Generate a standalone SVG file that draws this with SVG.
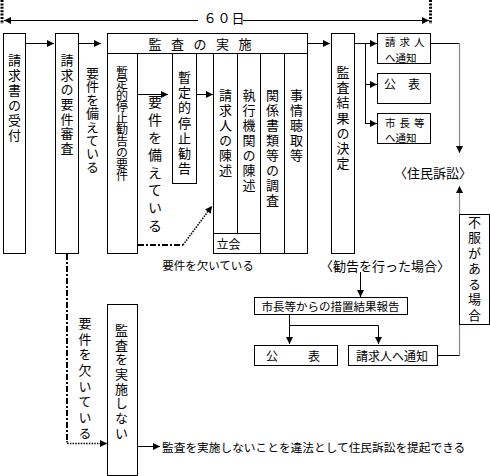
<svg xmlns="http://www.w3.org/2000/svg" width="490" height="476" viewBox="0 0 490 476">
<style>
.b{fill:#fff;stroke:#000;stroke-width:1}
.ln{fill:none;stroke:#000;stroke-width:1}
.g{fill:none;stroke:#888;stroke-width:1.2}
.t{font-family:"Noto Sans CJK JP","Noto Sans CJK SC",sans-serif;fill:#000;dominant-baseline:central}
.v{writing-mode:vertical-rl}
.dd{fill:none;stroke:#000;stroke-width:2;stroke-dasharray:6 2 2 2}
.dt{fill:none;stroke:#000;stroke-width:1.6;stroke-dasharray:1.5 1.2}
.tk{fill:none;stroke:#000;stroke-width:3;stroke-dasharray:2 1.4}
</style>
<defs>
<marker id="ah" markerUnits="userSpaceOnUse" markerWidth="8" markerHeight="7" refX="7" refY="3.5" orient="auto">
<path d="M0,0 L7,3.5 L0,7 z" fill="#000"/>
</marker>
<marker id="as" markerUnits="userSpaceOnUse" markerWidth="8" markerHeight="7" refX="0" refY="3.5" orient="auto">
<path d="M7,0 L0,3.5 L7,7 z" fill="#000"/>
</marker>
</defs>
<rect width="490" height="476" fill="#fff"/>

<g id="connectors">
<line class="tk" x1="2" y1="0" x2="2" y2="24"/>
<line class="tk" x1="430.5" y1="0" x2="430.5" y2="24"/>
<line class="ln" x1="4" y1="20.5" x2="429" y2="20.5" marker-start="url(#as)" marker-end="url(#ah)"/>
<line class="ln" x1="26" y1="43.5" x2="54" y2="43.5" marker-end="url(#ah)"/>
<line class="ln" x1="79" y1="43.5" x2="101" y2="43.5" marker-end="url(#ah)"/>
<line class="ln" x1="137" y1="94.5" x2="168" y2="94.5" marker-end="url(#ah)"/>
<line class="ln" x1="196" y1="94.5" x2="213" y2="94.5" marker-end="url(#ah)"/>
<line class="ln" x1="308" y1="43.5" x2="330" y2="43.5" marker-end="url(#ah)"/>
<path class="ln" d="M355,43.5 H365.5 V123.5"/>
<line class="ln" x1="365" y1="43.5" x2="377" y2="43.5" marker-end="url(#ah)"/>
<line class="ln" x1="365" y1="84.5" x2="377" y2="84.5" marker-end="url(#ah)"/>
<line class="ln" x1="365" y1="123.5" x2="377" y2="123.5" marker-end="url(#ah)"/>
<line class="ln" x1="431" y1="43.5" x2="459.5" y2="43.5"/>
<line class="g" x1="459.5" y1="43.5" x2="459.5" y2="153" marker-end="url(#ah)"/>
<line class="g" x1="459.5" y1="214" x2="459.5" y2="186" marker-end="url(#ah)"/>
<line class="g" x1="459.5" y1="355.5" x2="459.5" y2="325"/>
<line class="ln" x1="437" y1="355.5" x2="459.5" y2="355.5"/>
<line class="ln" x1="360.5" y1="272" x2="360.5" y2="297" marker-end="url(#ah)"/>
<line class="ln" x1="289.5" y1="314" x2="289.5" y2="344" marker-end="url(#ah)"/>
<path class="ln" d="M289.5,325.5 H378.5"/>
<line class="ln" x1="378.5" y1="325.5" x2="378.5" y2="344" marker-end="url(#ah)"/>
<path class="dd" d="M138,245 H183"/>
<line class="dt" x1="183" y1="245" x2="212" y2="206" marker-end="url(#ah)"/>
<path class="dd" d="M67,254 V441"/>
<path class="dt" d="M67,441 V443.5 H107" marker-end="url(#ah)"/>
<line class="ln" x1="137" y1="446.5" x2="160" y2="446.5" marker-end="url(#ah)"/>
</g>

<g id="days">
<rect x="198" y="9" width="45" height="15" fill="#fff"/>
<text class="t" x="203.5" y="17" font-size="13" letter-spacing="1">６０日</text>
</g>

<g id="n-uketsuke">
<rect class="b" x="3.5" y="33.5" width="22" height="220"/>
<text class="t v" x="14.5" y="53.5" font-size="13" letter-spacing="2">請求書の受付</text>
</g>

<g id="n-shinsa">
<rect class="b" x="55.5" y="33.5" width="23" height="220"/>
<text class="t v" x="67" y="53.5" font-size="13" letter-spacing="1.7">請求の要件審査</text>
</g>

<g id="lbl-sonaete1">
<text class="t v" x="92.5" y="66.5" font-size="13" letter-spacing="0.4">要件を備えている</text>
</g>

<g id="n-kansa-jisshi">
<rect class="b" x="107.5" y="33.5" width="200" height="20"/>
<text class="t" x="148.5" y="43.5" font-size="13" letter-spacing="9.5">監査の実施</text>
</g>

<g id="n-youken">
<rect class="b" x="107.5" y="53.5" width="30" height="200"/>
<text class="t v" x="122" y="66" font-size="12" letter-spacing="-0.5">暫定的停止勧告の要件</text>
</g>

<g id="lbl-sonaete2">
<text class="t v" x="155" y="95" font-size="14" letter-spacing="3.6">要件を備えている</text>
</g>

<g id="n-zantei">
<rect class="b" x="172.5" y="53.5" width="24" height="130"/>
<text class="t v" x="184.5" y="70.5" font-size="13" letter-spacing="2.2">暫定的停止勧告</text>
</g>

<g id="n-chinjutsu">
<rect class="b" x="213.5" y="53.5" width="94" height="200"/>
<line class="ln" x1="237.5" y1="53.5" x2="237.5" y2="233.5"/>
<line class="ln" x1="260.5" y1="53.5" x2="260.5" y2="253.5"/>
<line class="ln" x1="284.5" y1="53.5" x2="284.5" y2="253.5"/>
<line class="ln" x1="213.5" y1="233.5" x2="260.5" y2="233.5"/>
<text class="t v" x="225.5" y="88.5" font-size="13" letter-spacing="2">請求人の陳述</text>
<text class="t v" x="249" y="88.5" font-size="13" letter-spacing="2">執行機関の陳述</text>
<text class="t v" x="272.5" y="88.5" font-size="13" letter-spacing="2">関係書類等の調査</text>
<text class="t v" x="296.5" y="88.5" font-size="13" letter-spacing="2">事情聴取等</text>
<text class="t" x="228.5" y="243.5" font-size="12" text-anchor="middle">立会</text>
</g>

<g id="lbl-kaite1">
<text class="t" x="208" y="265" font-size="11.5" text-anchor="middle">要件を欠いている</text>
</g>

<g id="n-kekka">
<rect class="b" x="331.5" y="33.5" width="23" height="220"/>
<text class="t v" x="343" y="65.5" font-size="13" letter-spacing="2.2">監査結果の決定</text>
</g>

<g id="n-tsuchi1">
<rect class="b" x="377.5" y="33.5" width="53" height="30"/>
<text class="t" x="385" y="41" font-size="10.5"><tspan letter-spacing="4">請求人</tspan><tspan x="385" y="56.5">へ通知</tspan></text>
</g>

<g id="n-kohyo1">
<rect class="b" x="377.5" y="73.5" width="53" height="30"/>
<text class="t" x="384" y="83" font-size="12">公　表</text>
</g>

<g id="n-shicho">
<rect class="b" x="377.5" y="113.5" width="53" height="30"/>
<text class="t" x="385" y="121.5" font-size="10.5"><tspan letter-spacing="4">市長等</tspan><tspan x="385" y="137">へ通知</tspan></text>
</g>

<g id="n-sosho">
<text class="t" x="433" y="172" font-size="13" text-anchor="middle">〈住民訴訟〉</text>
</g>

<g id="n-fufuku">
<rect class="b" x="459.5" y="214.5" width="30" height="110"/>
<text class="t v" x="474.5" y="215.5" font-size="13" letter-spacing="2.5">不服がある場合</text>
</g>

<g id="lbl-kankoku">
<text class="t" x="385" y="265" font-size="13" text-anchor="middle">〈勧告を行った場合〉</text>
</g>

<g id="n-hokoku">
<rect class="b" x="254.5" y="297.5" width="153" height="17"/>
<text class="t" x="330.5" y="306" font-size="11.5" text-anchor="middle">市長等からの措置結果報告</text>
</g>

<g id="n-kohyo2">
<rect class="b" x="254.5" y="345.5" width="83" height="20"/>
<text class="t" x="294" y="355.5" font-size="12" letter-spacing="2" text-anchor="middle">公　　表</text>
</g>

<g id="n-tsuchi2">
<rect class="b" x="348.5" y="345.5" width="89" height="20"/>
<text class="t" x="392" y="355.5" font-size="12" text-anchor="middle">請求人へ通知</text>
</g>

<g id="lbl-kaite2">
<text class="t v" x="85" y="316.5" font-size="13" letter-spacing="2.7">要件を欠いている</text>
</g>

<g id="n-jisshishinai">
<rect class="b" x="107.5" y="304.5" width="30" height="171"/>
<text class="t v" x="121.5" y="323.5" font-size="13" letter-spacing="1.7">監査を実施しない</text>
</g>

<g id="lbl-ihou">
<text class="t" x="162" y="446.5" font-size="11.7">監査を実施しないことを違法として住民訴訟を提起できる</text>
</g>
</svg>
